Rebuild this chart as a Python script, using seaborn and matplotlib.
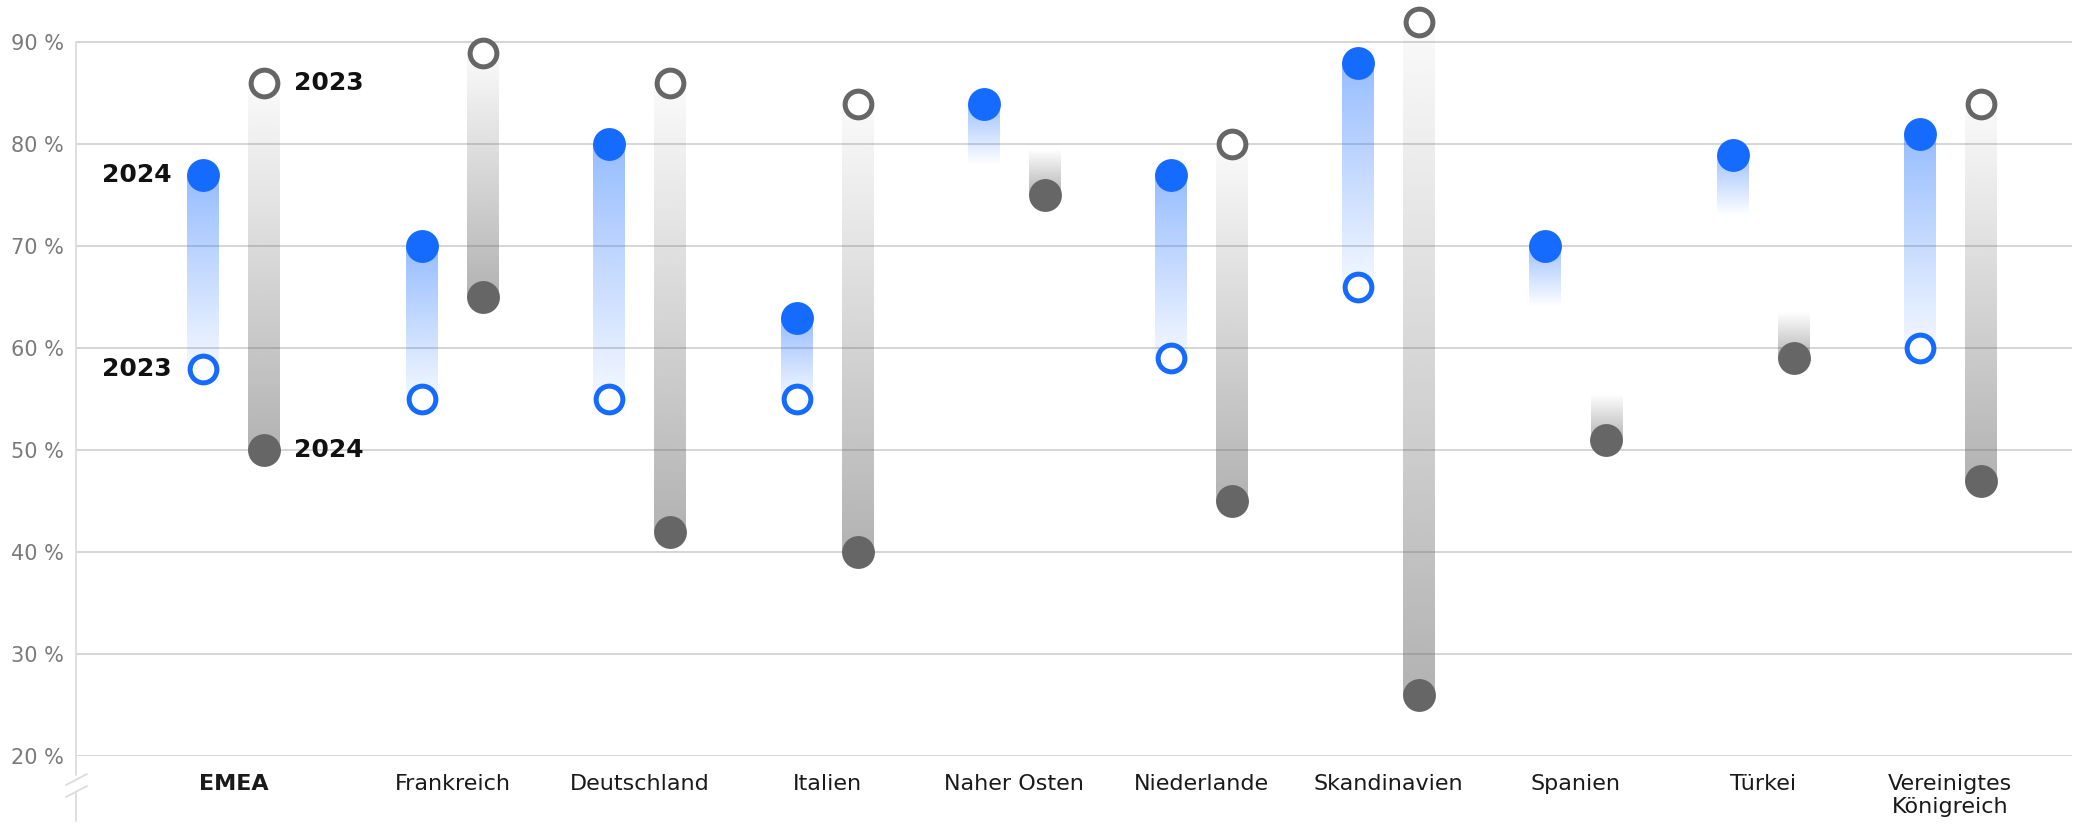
import numpy as np
import pandas as pd
import matplotlib
matplotlib.use("Agg")
import matplotlib.pyplot as plt
from matplotlib.colors import to_rgb
from matplotlib.lines import Line2D
import seaborn as sns

# ---- data -------------------------------------------------------------
categories = ["EMEA", "Frankreich", "Deutschland", "Italien", "Naher Osten",
              "Niederlande", "Skandinavien", "Spanien", "Türkei",
              "Vereinigtes\nKönigreich"]
metric_a_2024 = [77, 70, 80, 63, 84, 77, 88, 70, 79, 81]
metric_a_2023 = [58, 55, 55, 55, None, 59, 66, None, None, 60]
metric_b_2024 = [50, 65, 42, 40, 75, 45, 26, 51, 59, 47]
metric_b_2023 = [86, 89, 86, 84, None, 80, 92, None, None, 84]
y_ticks = [20, 30, 40, 50, 60, 70, 80, 90]
y_tick_labels = [f"{v} %" for v in y_ticks]

# ---- style ------------------------------------------------------------
BLUE = "#166bff"
GRAY = "#666666"
GRID = "#d2d2d2"
W_PX, H_PX, DPI = 2079, 830, 100

sns.set_theme(style="white")
plt.rcParams["font.family"] = ["DejaVu Sans"]

fig = plt.figure(figsize=(W_PX / DPI, H_PX / DPI), dpi=DPI)
ax = fig.add_axes([76 / W_PX, 74 / H_PX, 1996 / W_PX, 756 / H_PX])

n = len(categories)
idx = np.arange(n)
# the overall region sits slightly apart from the individual countries
group_pos = idx + np.where(idx > 0, 0.17, 0.0)
dx = 0.163
bar_w = 0.17
XLIM = (-0.842, 9.82)
YLIM = (20, 94.16)
STUB_A, STUB_B = 6.0, 4.5


def gradient_bar(x, strong, weak, color, a_strong, a_weak):
    """Vertical bar fading from the strong end to the weak end."""
    lo, hi = sorted((strong, weak))
    t = np.linspace(0, 1, 256)
    if strong <= weak:
        alpha = a_strong + (a_weak - a_strong) * t
    else:
        alpha = a_weak + (a_strong - a_weak) * t
    img = np.zeros((256, 1, 4))
    img[..., :3] = to_rgb(color)
    img[:, 0, 3] = alpha
    ax.imshow(img, extent=[x - bar_w / 2, x + bar_w / 2, lo, hi],
              origin="lower", aspect="auto", interpolation="bilinear",
              zorder=2)


for i in range(n):
    xa, xb = group_pos[i] - dx, group_pos[i] + dx
    a24, a23 = metric_a_2024[i], metric_a_2023[i]
    b24, b23 = metric_b_2024[i], metric_b_2023[i]
    if a23 is None:
        gradient_bar(xa, a24, a24 - STUB_A, BLUE, 0.42, 0.0)
    else:
        gradient_bar(xa, a24, a23, BLUE, 0.45, 0.05)
    if b23 is None:
        gradient_bar(xb, b24, b24 + STUB_B, GRAY, 0.5, 0.0)
    else:
        gradient_bar(xb, b24, b23, GRAY, 0.5, 0.03)

# ---- markers ----------------------------------------------------------
df = pd.DataFrame({
    "pos": np.concatenate([group_pos - dx, group_pos - dx,
                           group_pos + dx, group_pos + dx]),
    "value": [np.nan if v is None else float(v) for v in
              metric_a_2024 + metric_a_2023 + metric_b_2024 + metric_b_2023],
    "reihe": ["a"] * (2 * n) + ["b"] * (2 * n),
    "jahr": ([2024] * n + [2023] * n) * 2,
}).dropna()

for reihe, col in (("a", BLUE), ("b", GRAY)):
    filled = df[(df.reihe == reihe) & (df.jahr == 2024)]
    hollow = df[(df.reihe == reihe) & (df.jahr == 2023)]
    sns.scatterplot(data=filled, x="pos", y="value", ax=ax, color=col,
                    s=560, linewidth=0, legend=False, zorder=4)
    sns.scatterplot(data=hollow, x="pos", y="value", ax=ax, color="white",
                    edgecolor=col, s=370, linewidth=3.6, legend=False,
                    zorder=4)

# ---- year annotations on the overall region ---------------------------
ann = dict(fontsize=18, fontweight="bold", color="#111111", va="center",
           textcoords="offset points")
ax.annotate("2024", xy=(group_pos[0] - dx, metric_a_2024[0]),
            xytext=(-23, 0), ha="right", **ann)
ax.annotate("2023", xy=(group_pos[0] - dx, metric_a_2023[0]),
            xytext=(-23, 0), ha="right", **ann)
ax.annotate("2023", xy=(group_pos[0] + dx, metric_b_2023[0]),
            xytext=(21.5, 0), ha="left", **ann)
ax.annotate("2024", xy=(group_pos[0] + dx, metric_b_2024[0]),
            xytext=(21.5, 0), ha="left", **ann)

# ---- axes -------------------------------------------------------------
ax.set_xlim(*XLIM)
ax.set_ylim(*YLIM)
ax.set_yticks(y_ticks)
ax.set_yticklabels(y_tick_labels)
ax.set_xticks(group_pos)
ax.set_xticklabels(categories)
ax.set_xlabel("")
ax.set_ylabel("")
ax.xaxis.get_ticklabels()[0].set_fontweight("bold")
ax.xaxis.get_ticklabels()[0].set_fontsize(15)
ax.tick_params(axis="y", length=0, pad=8.5, labelsize=15,
               labelcolor="#7a7a7a")
ax.tick_params(axis="x", length=0, pad=13, labelsize=16,
               labelcolor="#1a1a1a")
for s in ax.spines.values():
    s.set_visible(False)
ax.set_axisbelow(True)
ax.grid(axis="y", color=GRID, linewidth=1.3)
ax.grid(axis="x", visible=False)

# left axis line with a break below the baseline
ytr = ax.get_yaxis_transform()
ax.plot([0, 0], [90, 18.1], transform=ytr, color="#dcdcdc", lw=1.3,
        clip_on=False, zorder=1)
ax.plot([0, 0], [16.5, 13.6], transform=ytr, color="#dcdcdc", lw=1.3,
        clip_on=False, zorder=1)
for y0 in (785, 797):
    fig.add_artist(Line2D([66 / W_PX, 87 / W_PX],
                          [(H_PX - y0) / H_PX, (H_PX - y0 + 11) / H_PX],
                          transform=fig.transFigure, color="#dcdcdc",
                          lw=1.3))

fig.savefig("out.png", dpi=DPI, facecolor="white")
